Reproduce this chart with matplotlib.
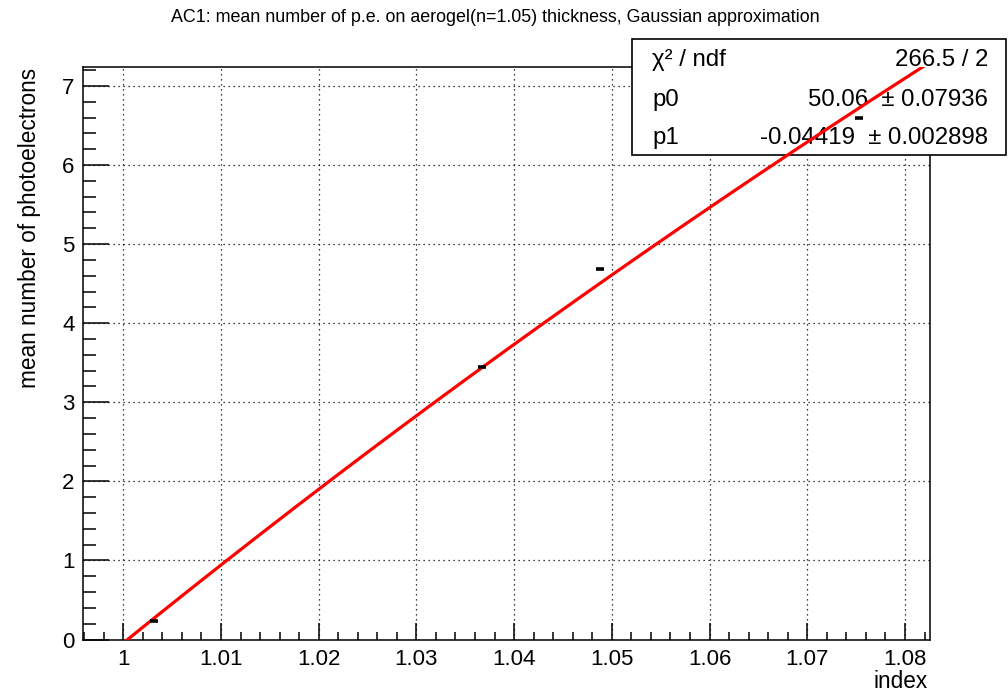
import numpy as np
import matplotlib
matplotlib.use("Agg")
import matplotlib.pyplot as plt
from matplotlib.patches import Rectangle
from matplotlib.ticker import MultipleLocator, FuncFormatter

plt.rcParams['font.family'] = ['Liberation Sans', 'DejaVu Sans']

# Measured points: refractive index vs mean number of photoelectrons
index = [1.0031, 1.0367, 1.0488, 1.0753]
mean_pe = [0.234, 3.445, 4.69, 6.60]

# Fit results: f(n) = p0 * (1 - 1/n^2) + p1
chi2, ndf = 266.5, 2
p0, p0_err = 50.06, 0.07936
p1, p1_err = -0.04419, 0.002898

title = "AC1: mean number of p.e. on aerogel(n=1.05) thickness, Gaussian approximation"

W, H = 1008, 693
fig = plt.figure(figsize=(W / 100, H / 100), dpi=100)
ax = fig.add_axes([83 / W, 1 - 639.5 / H, (930 - 83) / W, (639.5 - 67) / H])
ax.patch.set_visible(False)

ax.set_xlim(0.99588, 1.08256)
ax.set_ylim(0, 7.24)


def fmt_index(v, pos):
    if abs(v - round(v)) < 1e-9:
        return f"{int(round(v))}"
    return f"{v:.2f}"


ax.xaxis.set_major_locator(MultipleLocator(0.01))
ax.xaxis.set_minor_locator(MultipleLocator(0.002))
ax.yaxis.set_major_locator(MultipleLocator(1))
ax.yaxis.set_minor_locator(MultipleLocator(0.2))
ax.xaxis.set_major_formatter(FuncFormatter(fmt_index))

ax.tick_params(axis='x', which='major', direction='in', length=12, width=1.1,
               labelsize=16, pad=7, top=False)
ax.tick_params(axis='x', which='minor', direction='in', length=6, width=1.1, top=False)
ax.tick_params(axis='y', which='major', direction='in', length=19, width=1.1,
               labelsize=16, pad=6, right=False)
ax.tick_params(axis='y', which='minor', direction='in', length=9.5, width=1.1, right=False)

for s in ax.spines.values():
    s.set_linewidth(1.1)

ax.grid(True, which='major', color='black', linestyle=(0, (1, 3)), linewidth=0.9)
ax.set_axisbelow(True)

# Fit curve
n = np.linspace(1.0, 1.0826, 400)
f = p0 * (1 - 1 / n ** 2) + p1
ax.plot(n, f, color='#ff0000', lw=2.3, zorder=5)

# Data markers
ax.plot(index, mean_pe, linestyle='none', marker='_', markersize=5.5,
        markeredgewidth=2.6, color='black', zorder=6)

fig.text(495 / W, 1 - 18 / H, title, ha='center', va='center', fontsize=12.9)

fig.text(30 / W, 1 - 68 / H, "mean number of photoelectrons", rotation=90,
         ha='center', va='top', fontsize=16.3)
fig.text(928 / W, 1 - 682 / H, "index", ha='right', va='center', fontsize=16.3)

# Statistics box, drawn over the frame but under the fit curve and markers
box = Rectangle((632 / W, 1 - 155 / H), (1006 - 632) / W, (155 - 39) / H,
                transform=fig.transFigure, facecolor='white', edgecolor='black',
                linewidth=1.2, zorder=3, clip_on=False)
ax.add_artist(box)
rows = [
    ("\u03c7\u00b2 / ndf", f"{chi2:g} / {ndf}", 60),
    ("p0", f"{p0:.2f}  \u00b1 {p0_err:.4g}", 100),
    ("p1", f"{p1:.5f}  \u00b1 {p1_err:.4g}", 138),
]
for lab, val, y in rows:
    ax.text(652 / W, 1 - y / H, lab, ha='left', va='center', fontsize=17.3,
            transform=fig.transFigure, zorder=4, clip_on=False)
    ax.text(988 / W, 1 - y / H, val, ha='right', va='center', fontsize=17.3,
            transform=fig.transFigure, zorder=4, clip_on=False)

fig.savefig("out.png", dpi=100)
